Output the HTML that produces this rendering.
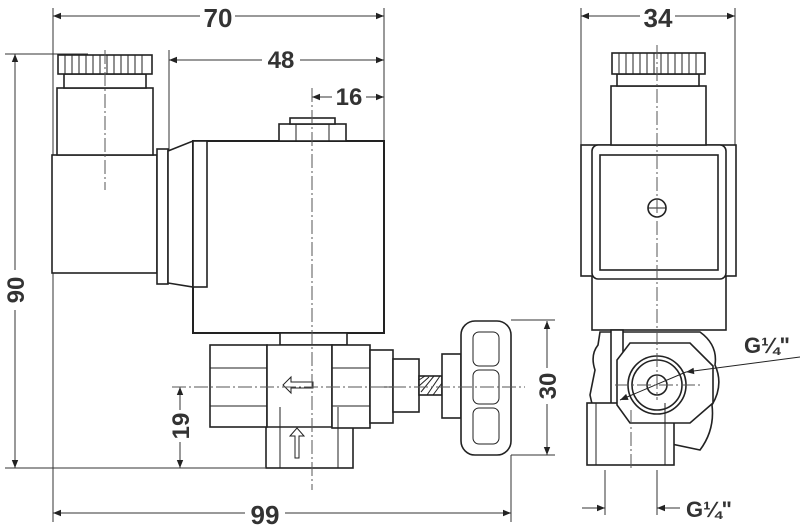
<!DOCTYPE html>
<html><head><meta charset="utf-8"><style>
html,body{margin:0;padding:0;background:#fff;}
svg{display:block;}
text{font-family:"Liberation Sans Narrow","Liberation Sans",sans-serif;font-weight:bold;fill:#333;}
</style></head><body>
<svg width="800" height="528" viewBox="0 0 800 528" xmlns="http://www.w3.org/2000/svg">
<defs>
<marker id="a" viewBox="0 0 10 10" refX="10" refY="5" markerWidth="10" markerHeight="8" orient="auto-start-reverse" markerUnits="userSpaceOnUse"><path d="M0,1 L10,5 L0,9 Z" fill="#222"/></marker>
</defs>
<g fill="none" stroke="#333" stroke-width="1">
<line x1="53" y1="8" x2="53" y2="522"/>
<line x1="384" y1="8" x2="384" y2="140"/>
<line x1="169" y1="50" x2="169" y2="150"/>
<line x1="5" y1="54" x2="88" y2="54"/>
<line x1="5" y1="468" x2="265" y2="468"/>
<line x1="511" y1="320" x2="555" y2="320"/>
<line x1="511" y1="455" x2="555" y2="455"/>
<line x1="511" y1="455" x2="511" y2="522"/>
<line x1="581" y1="8" x2="581" y2="145"/>
<line x1="735" y1="8" x2="735" y2="145"/>
<line x1="53" y1="16" x2="200" y2="16" marker-start="url(#a)"/>
<line x1="235" y1="16" x2="384" y2="16" marker-end="url(#a)"/>
<line x1="169" y1="60" x2="262" y2="60" marker-start="url(#a)"/>
<line x1="300" y1="60" x2="384" y2="60" marker-end="url(#a)"/>
<line x1="312" y1="97" x2="332" y2="97" marker-start="url(#a)"/>
<line x1="366" y1="97" x2="384" y2="97" marker-end="url(#a)"/>
<line x1="15" y1="54" x2="15" y2="270" marker-start="url(#a)"/>
<line x1="15" y1="310" x2="15" y2="468" marker-end="url(#a)"/>
<line x1="180" y1="387" x2="180" y2="410" marker-start="url(#a)"/>
<line x1="180" y1="442" x2="180" y2="468" marker-end="url(#a)"/>
<line x1="547" y1="321" x2="547" y2="368" marker-start="url(#a)"/>
<line x1="547" y1="404" x2="547" y2="455" marker-end="url(#a)"/>
<line x1="53" y1="513" x2="245" y2="513" marker-start="url(#a)"/>
<line x1="285" y1="513" x2="511" y2="513" marker-end="url(#a)"/>
<line x1="581" y1="16" x2="640" y2="16" marker-start="url(#a)"/>
<line x1="675" y1="16" x2="735" y2="16" marker-end="url(#a)"/>
<line x1="582" y1="508" x2="605" y2="508" marker-end="url(#a)"/>
<line x1="680" y1="508" x2="657" y2="508" marker-end="url(#a)"/>
<line x1="605" y1="470" x2="605" y2="515"/>
<line x1="657" y1="470" x2="657" y2="515"/>
</g>
<g fill="#fff" stroke="#222" stroke-width="1.6">
<rect x="52" y="155" width="105" height="118"/>
<rect x="57" y="88" width="96" height="67"/>
<rect x="64" y="74" width="82" height="14"/>
<rect x="58" y="55" width="94" height="19"/>
<rect x="157" y="149" width="11" height="135"/>
<path d="M168,151 L193,141 L193,287 L168,283 Z"/>
<rect x="193" y="141" width="191" height="192" stroke-width="2"/>
<rect x="193" y="141" width="14" height="146"/>
<rect x="279" y="124" width="67" height="17"/>
<rect x="290" y="118" width="45" height="6"/>
<rect x="280" y="333" width="67" height="12"/>
<rect x="266" y="407" width="87" height="61"/>
<rect x="210" y="345" width="57" height="82"/>
<path d="M267,345 L332,345 L332,427 L267,427 Z"/>
<rect x="332" y="345" width="38" height="83"/>
<rect x="370" y="350" width="23" height="73"/>
<rect x="393" y="359" width="26" height="53"/>
<rect x="419" y="376" width="23" height="19"/>
<rect x="442" y="354" width="19" height="64"/>
<rect x="461" y="321" width="50" height="134" rx="14"/>
<rect x="592" y="276" width="134" height="54"/>
<rect x="581" y="145" width="155" height="131"/>
<rect x="592" y="145" width="134" height="134" rx="6"/>
<rect x="600" y="155" width="118" height="115"/>
<rect x="611" y="86" width="95" height="59"/>
<rect x="617" y="74" width="82" height="12"/>
<rect x="612" y="53" width="93" height="21"/>
<path d="M598,345 Q590,355 595,370 L590,395 Q595,420 605,430 L700,450 Q715,430 712,405 Q724,385 715,365 Q718,345 700,332 L600,332 Z"/>
<rect x="611" y="330" width="12" height="75"/>
<rect x="587" y="403" width="87" height="62"/>
<path d="M630,343 L690,343 L713,366 L713,403 L690,423 L630,423 L617,405 L617,360 Z"/>
<circle cx="657" cy="385" r="29"/>
<circle cx="657" cy="385" r="25"/>
<circle cx="657" cy="385" r="10"/>
<circle cx="657" cy="208" r="9"/>
</g>
<g stroke="#222" stroke-width="1" fill="none">
<path d="M65,55v19M72,55v19M79,55v19M86,55v19M93,55v19M100,55v19M107,55v19M114,55v19M121,55v19M128,55v19M135,55v19M142,55v19"/>
<path d="M619,53v21M626,53v21M633,53v21M640,53v21M647,53v21M654,53v21M661,53v21M668,53v21M675,53v21M682,53v21M689,53v21M696,53v21"/>
<path d="M296,124v17M329,124v17M210,368h57M210,406h57M332,368h38M332,406h38M370,387h23M280,407v61M338,407v61"/>
<path d="M419,380l6,-4M419,386l10,-9M421,392l13,-16M427,395l13,-19M433,395l9,-12"/>
<rect x="473" y="332" width="26" height="34" rx="6"/><rect x="473" y="370" width="26" height="34" rx="6"/><rect x="473" y="408" width="26" height="36" rx="6"/>
<path d="M648,208h18M596,403v62M665,403v62"/>
<path d="M313,382h-22v-5l-8,8 8,8v-5h22z" fill="#fff"/>
<path d="M295,458v-22h-5l7,-8 7,8h-5v22z" fill="#fff"/>
<line x1="800" y1="357" x2="686" y2="372" marker-end="url(#a)"/>
<line x1="686" y1="372" x2="620" y2="400" marker-end="url(#a)"/>
</g>
<g stroke-dasharray="14,3,2,3" stroke="#555" stroke-width="1" fill="none">
<line x1="105" y1="50" x2="105" y2="190"/>
<line x1="312" y1="88" x2="312" y2="490"/>
<line x1="172" y1="387" x2="525" y2="387"/>
<line x1="657" y1="45" x2="657" y2="400"/>
<line x1="615" y1="385" x2="702" y2="385"/>
<line x1="631" y1="410" x2="631" y2="468"/>
</g>
<text x="218" y="27" font-size="26" text-anchor="middle">70</text>
<text x="281" y="68" font-size="24" text-anchor="middle">48</text>
<text x="349" y="105" font-size="24" text-anchor="middle">16</text>
<text x="658" y="27" font-size="26" text-anchor="middle">34</text>
<text x="265" y="524" font-size="26" text-anchor="middle">99</text>
<text font-size="24" text-anchor="middle" transform="translate(24,290) rotate(-90)">90</text>
<text font-size="24" text-anchor="middle" transform="translate(189,426) rotate(-90)">19</text>
<text font-size="24" text-anchor="middle" transform="translate(556,386) rotate(-90)">30</text>
<text x="744" y="353" font-size="22">G¼"</text>
<text x="686" y="517" font-size="22">G¼"</text>
</svg>
</body></html>
